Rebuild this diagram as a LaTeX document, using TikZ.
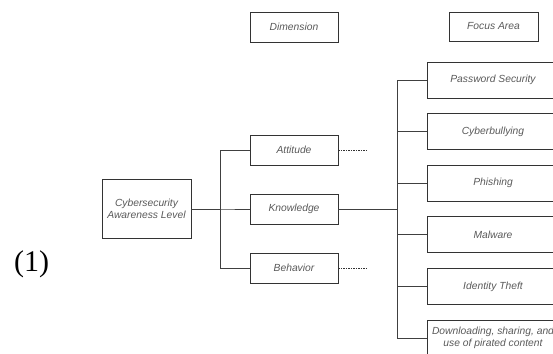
\documentclass[tikz,border=0pt]{standalone}
\usepackage{fontspec}
\setmainfont{Liberation Serif}
\newfontfamily\boxfont{Liberation Sans}
\usetikzlibrary{positioning}

\begin{document}
\begin{tikzpicture}
  [grow'=right, line width=0.7pt,
   every node/.style={draw=black!80, text=black!65, inner sep=2pt, align=center,
     font=\boxfont\itshape\fontsize{10.3}{12}\selectfont},
   edge from parent/.style={draw=black!75},
   edge from parent path={(\tikzparentnode.east) -| ([xshift=-29.5pt]\tikzchildnode.west) -- (\tikzchildnode.west)},
   level 1/.style={level distance=147.5pt, sibling distance=59pt},
   level 2/.style={level distance=199pt, sibling distance=51.6pt},
   rootbox/.style={minimum width=89pt, minimum height=59pt},
   dimbox/.style={minimum width=88pt, minimum height=30pt},
   focusbox/.style={minimum width=132pt, minimum height=36pt},
   stub/.style={draw=black!80, dash pattern=on 1.5pt off 1pt}]
  \useasboundingbox (0,0) rectangle (553pt,-353pt);
  \node[draw=none, text=black, font=\fontsize{30}{30}\selectfont, anchor=base] (eqno) at (31.5pt,-271.7pt) {(1)};
  \node[dimbox] (dimhead) at (294pt,-27pt) {Dimension};
  \node[dimbox, minimum width=89pt, minimum height=29pt] (focushead) at (493.5pt,-26.5pt) {Focus Area};
  \node[rootbox] (root) at (146.5pt,-209pt) {Cybersecurity\\Awareness Level}
     child {node[dimbox] (att) {Attitude}}
     child {node[dimbox] (know) {Knowledge}
       child {node[focusbox] (pwd) {Password Security}}
       child {node[focusbox] (cyb) {Cyberbullying}}
       child {node[focusbox] (phish) {Phishing}}
       child {node[focusbox] (mal) {Malware}}
       child {node[focusbox] (ident) {Identity Theft}}
       child {node[focusbox] (pirate) {Downloading, sharing, and\\use of pirated content}}
     }
     child {node[dimbox] (beh) {Behavior}};
  \coordinate[right=29pt of att.east] (attend);
  \coordinate[right=29pt of beh.east] (behend);
  \draw[stub] (att) -- (attend);
  \draw[stub] (beh) -- (behend);
\end{tikzpicture}
\end{document}
